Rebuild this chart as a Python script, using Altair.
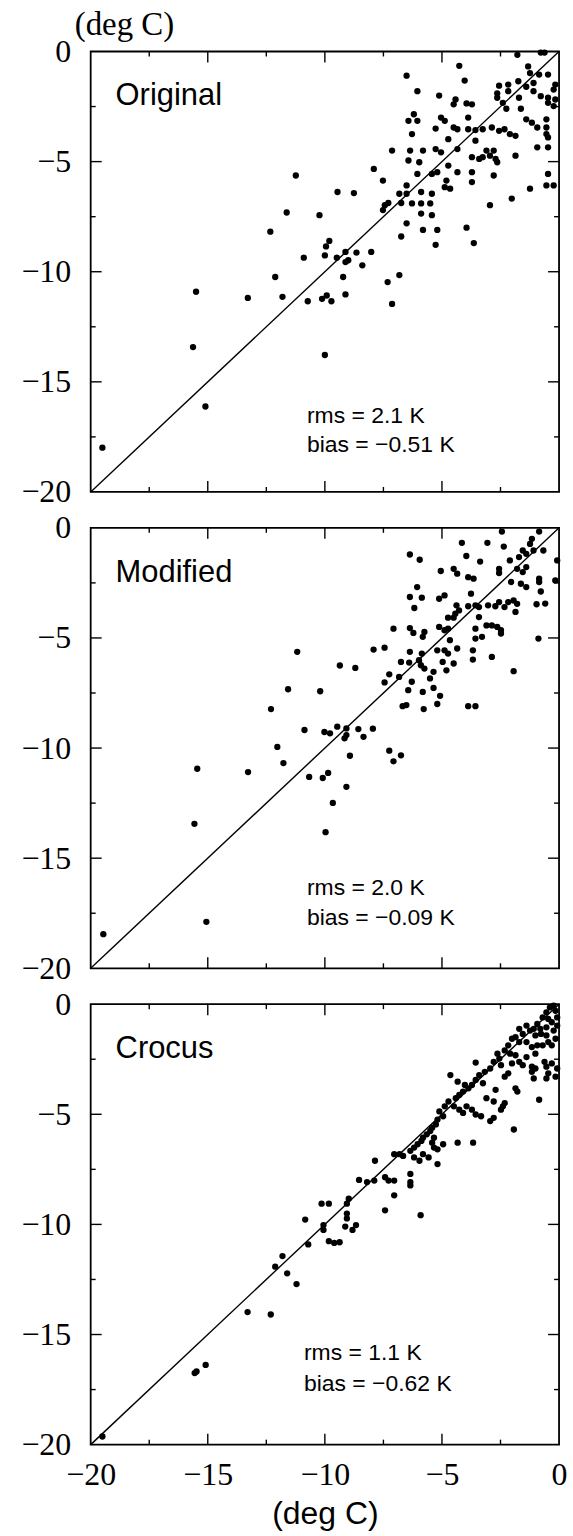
import altair as alt
import pandas as pd

# ---------------- data ----------------
orig_obs = [-1.78, -0.78, -0.62, -4.26, -1.32, -1.24, -0.85, -0.47, -6.51, -4.03,
            -0.16, -0.23, -2.56, -2.17, -1.74, -1.09, -6.05, -5.12, -4.42, -4.50,
            -3.95, -3.72, -2.64, -2.64, -2.17, -1.71, -1.40, -1.09, -0.78, -0.47,
            -0.47, -0.16, -0.23, -2.25, -1.63, -2.40, -6.43, -6.20, -6.05, -6.28,
            -5.04, -4.88, -5.27, -4.50, -4.34, -3.88, -3.88, -3.57, -3.26, -2.87,
            -2.56, -2.33, -2.10, -1.86, -1.40, -1.16, -0.93, -0.54, -0.54, -0.54,
            -0.47, -4.73, -3.57, -7.13, -6.36, -5.81, -5.27, -5.04, -4.34, -3.72,
            -3.26, -2.95, -2.71, -3.10, -2.79, -3.41, -2.64, -1.86, -0.93, -0.47,
            -6.43, -5.97, -4.73, -4.34, -6.05, -3.72, -3.72, -2.79, -5.43, -5.20,
            -7.91, -11.24, -7.52, -4.81, -4.88, -4.65, -6.51, -0.47, -0.54, -0.23,
            -1.24, -2.02, -2.95, -9.46, -8.76, -6.82, -6.51, -5.89, -5.43, -7.29,
            -7.44, -6.74, -6.28, -5.89, -5.50, -7.52, -5.89, -5.43, -11.63, -10.23,
            -6.51, -5.81, -5.20, -3.95, -12.33, -9.81, -6.74, -5.27, -3.64, -9.95,
            -10.90, -10.00, -9.49, -9.12, -8.65, -8.02, -9.12, -9.00, -8.40, -12.12,
            -9.22, -7.32, -6.82, -15.50, -13.29, -11.81, -10.73, -10.12, -9.92, -9.72,
            -9.12, -7.13, -15.63, -10.00, -15.10, -19.50]
orig_sim = [-0.15, -0.05, -0.05, -0.65, -0.68, -0.98, -1.05, -1.05, -1.10, -1.32,
            -1.50, -1.73, -1.55, -1.50, -1.35, -1.43, -1.80, -2.00, -2.18, -2.40,
            -2.36, -2.40, -1.90, -2.10, -1.80, -2.10, -1.60, -1.80, -2.03, -2.10,
            -2.33, -2.18, -2.48, -2.60, -2.60, -2.33, -3.15, -2.85, -3.15, -3.75,
            -3.00, -3.15, -3.50, -3.45, -3.53, -3.00, -3.53, -3.57, -3.53, -3.45,
            -3.60, -3.53, -3.75, -3.83, -3.08, -3.23, -3.45, -3.08, -3.45, -3.75,
            -3.90, -3.98, -4.05, -4.50, -4.50, -4.50, -4.43, -4.58, -4.43, -4.80,
            -4.80, -4.73, -4.88, -4.50, -4.50, -4.88, -5.03, -4.73, -4.35, -4.35,
            -4.95, -5.03, -5.18, -5.48, -5.56, -5.48, -5.93, -5.63, -5.56, -5.48,
            -5.33, -5.63, -5.86, -5.86, -6.16, -6.23, -6.08, -5.56, -6.08, -6.08,
            -6.23, -6.68, -6.98, -6.38, -6.43, -6.46, -6.46, -6.38, -6.46, -6.88,
            -6.98, -6.88, -6.90, -6.90, -6.90, -7.20, -7.36, -7.43, -7.31, -7.43,
            -7.80, -8.10, -8.10, -8.00, -8.18, -8.60, -8.40, -8.78, -8.70, -8.85,
            -9.36, -9.26, -9.36, -9.10, -9.13, -9.10, -9.56, -9.48, -9.71, -10.24,
            -10.24, -10.47, -10.15, -10.91, -11.19, -11.14, -11.34, -11.23, -11.08, -11.34,
            -11.03, -11.46, -13.42, -13.78, -16.12, -17.99]

mod_obs = [-2.44, -0.85, -4.15, -3.06, -2.36, -1.16, -1.24, -1.55, -1.40, -1.09,
           -0.67, -6.37, -5.95, -3.96, -3.37, -2.10, -1.71, -1.40, -1.55, -1.79,
           -2.56, -2.56, -0.08, -5.05, -4.50, -4.35, -3.88, -3.65, -2.05, -1.63,
           -1.40, -0.85, -0.85, -0.16, -6.06, -3.76, -6.37, -5.86, -5.12, -4.89,
           -0.78, -2.56, -2.17, -1.94, -1.79, -0.96, -0.59, -6.18, -4.38, -3.88,
           -3.57, -3.42, -3.03, -2.72, -2.33, -1.86, -4.27, -4.43, -4.74, -4.50,
           -3.42, -7.07, -6.37, -6.22, -5.75, -5.82, -5.12, -4.89, -4.74, -4.66,
           -3.57, -3.57, -3.10, -2.87, -2.64, -2.48, -2.48, -3.29, -0.88, -7.92,
           -7.45, -6.37, -5.86, -5.20, -4.89, -4.35, -4.74, -3.68, -3.68, -2.87,
           -11.18, -6.75, -6.40, -5.98, -4.97, -4.50, -5.90, -5.75, -9.36, -8.70,
           -5.36, -4.81, -1.94, -7.25, -6.83, -6.29, -5.51, -7.45, -6.44, -5.82,
           -11.57, -10.20, -5.36, -5.08, -6.68, -6.52, -5.78, -5.20, -3.88, -3.57,
           -12.30, -10.87, -10.02, -9.78, -9.47, -9.08, -8.57, -7.95, -9.16, -9.08,
           -8.35, -12.03, -7.25, -7.07, -6.75, -8.93, -15.45, -13.28, -11.77, -10.67,
           -10.09, -9.86, -9.08, -9.66, -15.57, -9.97, -15.06, -19.46]
mod_sim = [-0.17, -0.17, -0.68, -0.68, -0.85, -0.50, -0.73, -1.03, -1.18, -1.03,
           -1.03, -1.21, -1.45, -1.28, -1.53, -1.48, -1.33, -1.78, -2.01, -1.86,
           -1.86, -2.05, -1.48, -1.96, -1.86, -2.08, -2.24, -2.31, -2.46, -2.54,
           -2.69, -2.31, -2.46, -2.39, -2.69, -2.99, -3.14, -3.17, -3.22, -3.07,
           -2.89, -3.37, -3.37, -3.30, -3.45, -3.47, -3.44, -3.64, -3.52, -3.56,
           -3.52, -3.60, -3.52, -3.56, -3.60, -3.82, -3.75, -3.90, -4.08, -4.08,
           -4.05, -4.58, -4.55, -4.77, -4.73, -4.95, -4.50, -4.65, -4.58, -5.10,
           -4.58, -5.03, -4.43, -4.43, -4.50, -4.65, -4.80, -4.95, -5.03, -5.53,
           -5.44, -5.63, -5.71, -5.56, -5.56, -5.48, -5.71, -5.56, -5.98, -5.86,
           -5.63, -6.09, -6.12, -6.01, -6.09, -6.16, -6.24, -6.39, -6.25, -6.36,
           -6.54, -6.47, -6.51, -6.65, -6.77, -6.99, -6.84, -7.02, -7.37, -7.45,
           -7.33, -7.42, -7.27, -7.63, -8.10, -8.05, -8.23, -8.00, -8.10, -8.10,
           -8.23, -9.18, -9.27, -9.33, -9.03, -9.11, -9.14, -9.12, -9.56, -9.41,
           -9.49, -9.95, -10.12, -10.60, -10.33, -10.35, -10.94, -11.09, -10.68, -11.31,
           -11.36, -11.13, -11.76, -12.49, -13.44, -13.82, -17.89, -18.45]

croc_obs = [-0.54, -0.39, -0.23, -0.15, -0.08, -0.31, -0.46, -0.70, -0.93, -1.08,
            -0.80, -0.54, -0.23, -0.08, -1.39, -1.24, -1.01, -0.77, -0.54, -0.46,
            -0.15, -0.31, -0.70, -0.93, -1.70, -1.55, -1.86, -2.01, -2.17, -1.70,
            -1.39, -1.16, -2.32, -2.09, -1.86, -1.39, -1.01, -2.63, -2.55, -2.79,
            -2.94, -2.48, -2.01, -1.70, -1.55, -1.16, -1.01, -0.62, -0.54, -0.31,
            -0.08, -0.46, -0.15, -0.54, -3.56, -3.17, -3.41, -3.56, -3.72, -3.87,
            -4.10, -4.26, -4.41, -4.64, -4.33, -4.02, -2.71, -2.32, -2.17, -1.86,
            -1.78, -1.08, -0.85, -1.16, -3.25, -3.10, -2.79, -4.72, -4.49, -4.26,
            -4.10, -3.95, -3.72, -3.56, -3.33, -2.94, -2.79, -2.40, -2.32, -2.48,
            -5.11, -4.88, -4.95, -5.19, -5.26, -5.42, -5.50, -5.65, -5.81, -5.88,
            -6.04, -6.19, -5.34, -5.42, -5.34, -4.95, -5.19, -1.93, -4.33, -3.67,
            -5.81, -5.96, -6.19, -5.57, -5.19, -6.66, -6.81, -7.04, -6.35, -7.86,
            -7.43, -7.28, -7.04, -6.35, -6.35, -6.35, -8.54, -8.20, -7.89, -7.04,
            -8.98, -9.06, -10.14, -9.83, -7.43, -5.91, -10.84, -9.06, -9.06, -10.06,
            -10.06, -9.13, -8.82, -8.67, -9.83, -9.60, -9.37, -10.71, -11.81, -12.12,
            -11.61, -11.21, -13.30, -12.31, -15.56, -15.48, -15.09, -19.50]
croc_sim = [-0.37, -0.15, -0.07, -0.30, -0.60, -0.82, -0.67, -0.60, -0.90, -1.12,
            -1.12, -1.05, -1.20, -0.97, -0.97, -1.20, -1.42, -1.35, -1.42, -1.72,
            -1.57, -1.87, -1.87, -1.87, -1.12, -1.35, -1.50, -1.57, -1.87, -1.72,
            -1.72, -1.95, -2.10, -2.25, -2.32, -2.40, -2.25, -2.25, -2.47, -2.62,
            -2.92, -2.77, -2.69, -2.62, -2.77, -2.84, -2.92, -2.62, -2.84, -2.69,
            -2.92, -3.14, -3.29, -3.37, -2.65, -3.07, -3.22, -3.44, -3.67, -3.82,
            -3.97, -4.12, -4.27, -3.22, -3.52, -3.67, -3.89, -3.29, -3.14, -3.82,
            -3.97, -3.37, -4.34, -3.07, -3.59, -4.27, -4.42, -4.42, -4.64, -4.79,
            -4.94, -4.64, -4.79, -5.01, -5.09, -5.31, -5.16, -4.64, -4.49, -4.79,
            -4.87, -4.64, -5.09, -5.24, -5.46, -5.61, -5.76, -5.91, -6.06, -6.21,
            -6.36, -6.51, -6.06, -6.29, -6.51, -6.36, -6.59, -5.69, -6.29, -6.29,
            -6.81, -7.11, -6.96, -6.96, -7.26, -6.89, -6.81, -6.81, -6.66, -7.11,
            -7.86, -8.01, -8.01, -7.71, -8.08, -8.23, -7.98, -8.08, -8.01, -8.68,
            -8.83, -9.06, -9.06, -9.06, -9.36, -9.58, -9.78, -9.51, -9.73, -10.03,
            -10.25, -10.10, -10.25, -10.03, -10.76, -10.84, -10.81, -10.91, -11.44, -11.92,
            -12.22, -12.71, -13.98, -14.09, -16.75, -16.68, -16.38, -19.63]

panel_names = ["Original", "Modified", "Crocus"]
rms_text = ["rms = 2.1 K", "rms = 2.0 K", "rms = 1.1 K"]
bias_text = ["bias = \u22120.51 K", "bias = \u22120.09 K", "bias = \u22120.62 K"]
tick_labels = [0, -5, -10, -15, -20]
major_ticks = [-15, -10, -5]
minor_ticks = [-17.5, -12.5, -7.5, -2.5]
one_to_one = [-20, 0]
unit_label = "(deg C)"

# ---------------- layout / style ----------------
W, H = 470, 442
SERIF = "Liberation Serif"
SANS = "Liberation Sans"
stat_pos = [(217, 373, 402), (217, 368, 399), (214, 357, 388)]


def sc():
    return alt.Scale(domain=[-20, 0], nice=False, zero=False)


def make_yaxis():
    return alt.Axis(values=tick_labels, title=None, ticks=False, tickSize=0, domain=False,
                    grid=False, labelFont=SERIF, labelFontSize=32, labelColor="black",
                    labelPadding=20)


def make_xaxis(bottom):
    if not bottom:
        return None
    return alt.Axis(values=tick_labels, title=unit_label, ticks=False, tickSize=0,
                    domain=False, grid=False, labelFont=SERIF, labelFontSize=32,
                    labelColor="black", labelPadding=15, labelFlush=False,
                    titleFont=SANS, titleFontSize=32, titleFontWeight="normal",
                    titleColor="black", titlePadding=8)


def tick_layers(values, length, bottom):
    df = pd.DataFrame({"v": values})
    c = alt.Chart(df).mark_rule(color="black", strokeWidth=1.4)
    return [
        c.encode(x=alt.X("v:Q", scale=sc(), axis=make_xaxis(bottom)),
                 y=alt.value(0), y2=alt.value(length)),
        c.encode(x=alt.X("v:Q", scale=sc(), axis=make_xaxis(bottom)),
                 y=alt.value(H), y2=alt.value(H - length)),
        c.encode(y=alt.Y("v:Q", scale=sc(), axis=make_yaxis()),
                 x=alt.value(0), x2=alt.value(length)),
        c.encode(y=alt.Y("v:Q", scale=sc(), axis=make_yaxis()),
                 x=alt.value(W), x2=alt.value(W - length)),
    ]


def text_layer(txt, x, y, font, size):
    return alt.Chart(pd.DataFrame({"t": [txt]})).mark_text(
        font=font, fontSize=size, align="left", baseline="alphabetic", color="black"
    ).encode(x=alt.value(x), y=alt.value(y), text="t:N")


def panel(i, obs, sim, bottom, top):
    pts = pd.DataFrame({"obs": obs, "sim": sim})
    points = alt.Chart(pts).mark_circle(size=40, color="black", opacity=1).encode(
        x=alt.X("obs:Q", scale=sc(), axis=make_xaxis(bottom)),
        y=alt.Y("sim:Q", scale=sc(), axis=make_yaxis()),
    )
    diag = alt.Chart(pd.DataFrame({"obs": one_to_one, "sim": one_to_one})).mark_line(
        color="black", strokeWidth=1.4
    ).encode(
        x=alt.X("obs:Q", scale=sc(), axis=make_xaxis(bottom)),
        y=alt.Y("sim:Q", scale=sc(), axis=make_yaxis()),
    )
    sx, ry, by = stat_pos[i]
    layers = [diag, points]
    layers += tick_layers(major_ticks, 11, bottom)
    layers += tick_layers(minor_ticks, 5, bottom)
    layers += [
        text_layer(panel_names[i], 25, 54, SANS, 31),
        text_layer(rms_text[i], sx, ry, SANS, 23),
        text_layer(bias_text[i], sx, by, SANS, 23),
    ]
    if top:
        layers.append(text_layer(unit_label, -16, -17, SERIF, 33))
    return alt.layer(*layers).properties(width=W, height=H)


panels = [
    panel(0, orig_obs, orig_sim, False, True),
    panel(1, mod_obs, mod_sim, False, False),
    panel(2, croc_obs, croc_sim, True, False),
]

chart = alt.vconcat(*panels, spacing=36, bounds="flush").properties(
    padding={"left": 20, "top": 5, "right": 5, "bottom": 0},
    background="white",
).configure_view(stroke="black", strokeWidth=1.8)

chart.save("out.html", embed_options={"renderer": "svg", "actions": False})
